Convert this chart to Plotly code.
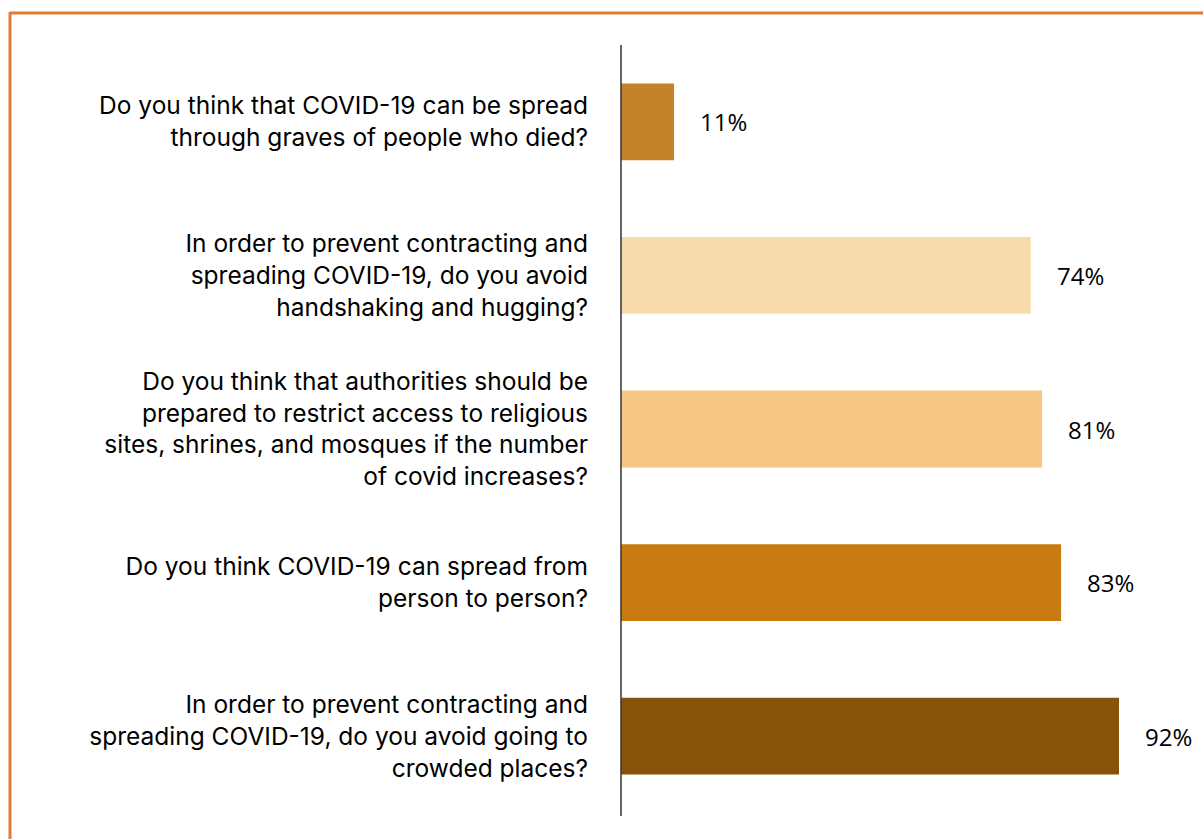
import plotly.graph_objects as go

questions = [
    "Do you think that COVID-19 can be spread<br>through graves of people who died?",
    "In order to prevent contracting and<br>spreading COVID-19, do you avoid<br>handshaking and hugging?",
    "Do you think that authorities should be<br>prepared to restrict access to religious<br>sites, shrines, and mosques if the number<br>of covid increases?",
    "Do you think COVID-19 can spread from<br>person to person?",
    "In order to prevent contracting and<br>spreading COVID-19, do you avoid going to<br>crowded places?",
]
# bar lengths as drawn in the picture (in % units), and the printed labels
bar_lengths = [9.8, 75.7, 77.8, 81.3, 92.0]
value_labels = ["11%", "74%", "81%", "83%", "92%"]
colors = ["#C4832A", "#F8DBAC", "#F5C684", "#C97B12", "#87520A"]

W, H = 1203, 839
L, R, T, B = 621, 1180, 45, 813

fig = go.Figure(go.Bar(
    x=bar_lengths, y=questions, orientation="h",
    marker=dict(color=colors, line=dict(width=0)),
    width=0.5, hoverinfo="skip",
))

for q, v, lab in zip(questions, bar_lengths, value_labels):
    fig.add_annotation(x=v, y=q, text=lab, showarrow=False, xanchor="left",
                       xshift=24, font=dict(family="Open Sans", size=24, color="#000"))

pw, ph = R - L, B - T
def px(x):
    return (x - L) / pw
def py(y):
    return (B - y) / ph

border = "#E07B39"
fig.add_shape(type="line", xref="paper", yref="paper", x0=px(10), x1=px(1210),
              y0=py(13), y1=py(13), line=dict(color=border, width=3))
fig.add_shape(type="line", xref="paper", yref="paper", x0=px(10), x1=px(10),
              y0=py(12), y1=py(845), line=dict(color=border, width=3))
# axis line (extends slightly below plot)
fig.add_shape(type="line", xref="paper", yref="paper", x0=0, x1=0,
              y0=py(816), y1=py(45), line=dict(color="#333", width=1.5))

fig.update_layout(
    width=W, height=H,
    margin=dict(l=L, r=W - R, t=T, b=H - B),
    paper_bgcolor="white", plot_bgcolor="white",
    showlegend=False,
    font=dict(family="Inter", size=24.5, color="#000"),
    bargap=0.5,
)
fig.update_xaxes(range=[0, pw / 5.413], visible=False, fixedrange=True)
fig.update_yaxes(autorange="reversed", showline=False,
                 showgrid=False, zeroline=False, ticks="", ticklabelstandoff=32,
                 tickfont=dict(family="Inter", size=24.5, color="#000"))

fig.write_html("out.html")
